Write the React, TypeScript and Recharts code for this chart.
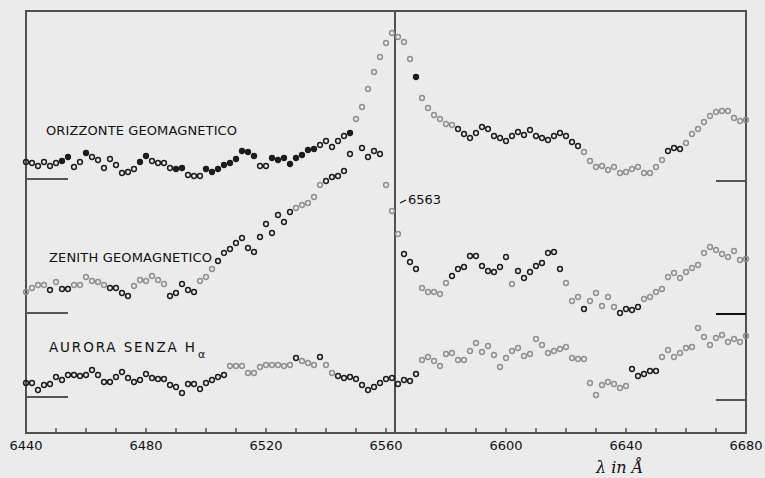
import React from "react";
import {
  LineChart,
  Line,
  XAxis,
  YAxis,
  ReferenceLine,
  ReferenceArea,
  Customized,
} from "recharts";

// wavelength grid (Å), one reading every 2 Å
const wavelengths = [
  6440, 6442, 6444, 6446, 6448, 6450, 6452, 6454, 6456, 6458,
  6460, 6462, 6464, 6466, 6468, 6470, 6472, 6474, 6476, 6478,
  6480, 6482, 6484, 6486, 6488, 6490, 6492, 6494, 6496, 6498,
  6500, 6502, 6504, 6506, 6508, 6510, 6512, 6514, 6516, 6518,
  6520, 6522, 6524, 6526, 6528, 6530, 6532, 6534, 6536, 6538,
  6540, 6542, 6544, 6546, 6548, 6550, 6552, 6554, 6556, 6558,
  6560, 6562, 6564, 6566, 6568, 6570, 6572, 6574, 6576, 6578,
  6580, 6582, 6584, 6586, 6588, 6590, 6592, 6594, 6596, 6598,
  6600, 6602, 6604, 6606, 6608, 6610, 6612, 6614, 6616, 6618,
  6620, 6622, 6624, 6626, 6628, 6630, 6632, 6634, 6636, 6638,
  6640, 6642, 6644, 6646, 6648, 6650, 6652, 6654, 6656, 6658,
  6660, 6662, 6664, 6666, 6668, 6670, 6672, 6674, 6676, 6678,
  6680,
];

// relative intensity (arbitrary units, curves shifted vertically)
const horizonValues = [
  271, 270, 267, 271, 267, 270, 272, 276, 266, 271,
  280, 276, 273, 265, 274, 268, 260, 261, 264, 271,
  277, 272, 270, 270, 265, 264, 265, 258, 257, 257,
  264, 261, 264, 268, 270, 274, 282, 281, 277, 267,
  267, 275, 273, 275, 269, 275, 278, 283, 284, 288,
  292, 286, 292, 297, 300, 314, 326, 344, 361, 376,
  390, 400, 396, 391, 374, 356, 335, 325, 318, 314,
  309, 308, 304, 299, 295, 300, 306, 304, 297, 295,
  292, 297, 301, 298, 303, 297, 295, 293, 297, 300,
  297, 291, 287, 281, 272, 266, 267, 263, 266, 260,
  261, 264, 266, 260, 260, 266, 273, 282, 285, 284,
  290, 299, 304, 311, 317, 321, 322, 322, 315, 312,
  313,
];

// second branch of the horizon curve just below Hα
const horizonBranchWavelengths = [6548, 6552, 6554, 6556, 6558];
const horizonBranchValues = [279, 285, 276, 282, 279];

const zenithValues = [
  141, 145, 148, 148, 143, 151, 144, 144, 148, 148,
  156, 152, 151, 148, 145, 145, 140, 137, 147, 153,
  152, 157, 153, 149, 137, 140, 149, 143, 141, 152,
  156, 164, 172, 180, 184, 190, 195, 185, 181, 196,
  209, 200, 218, 211, 221, 225, 228, 230, 236, 248,
  252, 256, 257, 262, null, null, null, null, null, null,
  248, 222, 199, 179, 171, 164, 145, 141, 141, 139,
  150, 157, 164, 166, 177, 177, 167, 162, 161, 166,
  176, 149, 162, 155, 161, 167, 170, 180, 181, 164,
  150, 132, 136, 124, 132, 140, 127, 136, 126, 120,
  124, 123, 126, 134, 136, 141, 144, 156, 160, 155,
  161, 165, 168, 180, 186, 183, 179, 176, 182, 173,
  174,
];

const auroraValues = [
  50, 50, 43, 48, 49, 56, 53, 58, 58, 57,
  58, 63, 58, 51, 51, 56, 61, 55, 51, 53,
  59, 55, 54, 54, 48, 46, 40, 49, 49, 44,
  50, 53, 56, 58, 67, 67, 67, 60, 60, 66,
  68, 68, 68, 67, 68, 75, 72, 70, 68, 76,
  68, 60, 57, 55, 56, 54, 48, 43, 46, 50,
  54, 55, 49, 53, 52, 59, 73, 76, 72, 67,
  79, 80, 73, 73, 82, 90, 81, 87, 78, 66,
  75, 82, 85, 77, 79, 94, 88, 80, 82, 84,
  86, 75, 74, 74, 50, 38, 48, 51, 49, 45,
  47, 64, 57, 59, 62, 62, 76, 83, 76, 80,
  85, 86, 105, 96, 88, 95, 98, 91, 94, 91,
  97,
];

const xTicks = [
  6440, 6450, 6460, 6470, 6480, 6490, 6500, 6510, 6520, 6530, 6540, 6550, 6560,
  6570, 6580, 6590, 6600, 6610, 6620, 6630, 6640, 6650, 6660, 6670, 6680,
];
const xLabels = [6440, 6480, 6520, 6560, 6600, 6640, 6680];
const H_ALPHA = 6563;

// zero levels of the three curves (left / right marks)
const zeroLeft = [254, 120, 36];
const zeroRight = [252, 119, 33];

const data = wavelengths.map((w, i) => {
  const b = horizonBranchWavelengths.indexOf(w);
  return {
    w,
    horizon: horizonValues[i],
    horizonBranch: b >= 0 ? horizonBranchValues[b] : null,
    zenith: zenithValues[i],
    aurora: auroraValues[i],
  };
});

const INK = "#1c1c1c";
const GREY = "#8f8f8f";
const FRAME = "#505050";

const greyRanges: Record<string, [number, number][]> = {
  horizon: [[6550, 6568], [6572, 6582], [6626, 6652], [6660, 6680]],
  zenith: [
    [6440, 6446], [6450, 6450], [6456, 6466], [6476, 6486], [6498, 6502],
    [6530, 6538], [6560, 6564], [6572, 6580], [6602, 6602], [6620, 6624],
    [6628, 6636], [6646, 6680],
  ],
  aurora: [[6508, 6528], [6532, 6536], [6540, 6542], [6572, 6640], [6652, 6680]],
};
const filledRanges: Record<string, [number, number][]> = {
  horizon: [
    [6452, 6454], [6460, 6460], [6478, 6480], [6490, 6492], [6500, 6516],
    [6522, 6536], [6548, 6548], [6570, 6570],
  ],
};

const inRanges = (w: number, ranges: [number, number][] = []) =>
  ranges.some(([a, b]) => w >= a && w <= b);

function makeDot(series: string) {
  return (props: any) => {
    const { cx, cy, payload, index } = props;
    const key = `${series}-${index}`;
    if (cx == null || cy == null || payload[series] == null) return <g key={key} />;
    const c = inRanges(payload.w, greyRanges[series]) ? GREY : INK;
    const filled = inRanges(payload.w, filledRanges[series]);
    return (
      <circle
        key={key}
        cx={cx}
        cy={cy}
        r={2.4}
        fill={filled ? c : "none"}
        stroke={c}
        strokeWidth={1.5}
      />
    );
  };
}

function WaveTick(props: any) {
  const { x, y, payload } = props;
  const v = payload.value;
  return (
    <g>
      <line x1={x} x2={x} y1={y - 5} y2={y} stroke={FRAME} strokeWidth={1.5} />
      {xLabels.includes(v) && (
        <text
          x={x}
          y={y + 17}
          textAnchor="middle"
          fontSize={13}
          fontFamily="DejaVu Sans"
          fill="#111"
        >
          {v}
        </text>
      )}
    </g>
  );
}

const Annotations = () => (
  <g fontFamily="DejaVu Sans" fill="#111">
    <text x={46} y={135} fontSize={13} textLength={191} lengthAdjust="spacing">
      ORIZZONTE GEOMAGNETICO
    </text>
    <text x={49} y={262} fontSize={13} textLength={163} lengthAdjust="spacing">
      ZENITH GEOMAGNETICO
    </text>
    <text x={49} y={352} fontSize={13.5} textLength={146} lengthAdjust="spacing">
      AURORA SENZA H
    </text>
    <text x={198} y={358} fontSize={11}>
      α
    </text>
    <text x={596} y={473} fontSize={16} fontStyle="italic" fontFamily="DejaVu Serif">
      λ in Å
    </text>
  </g>
);

export default function App() {
  return (
    <div
      style={{
        position: "absolute",
        left: 0,
        top: 0,
        width: 765,
        height: 478,
        background: "#ebebeb",
        overflow: "hidden",
      }}
    >
      <LineChart
        width={765}
        height={478}
        data={data}
        margin={{ top: 11, right: 19, bottom: 15, left: 26 }}
      >
        <XAxis
          dataKey="w"
          type="number"
          domain={[6440, 6680]}
          ticks={xTicks}
          axisLine={false}
          tickLine={false}
          tickSize={0}
          tickMargin={0}
          height={30}
          interval={0}
          tick={<WaveTick />}
        />
        <YAxis hide type="number" domain={[0, 422]} />

        <ReferenceArea
          x1={6440}
          x2={6680}
          y1={0}
          y2={422}
          fill="none"
          stroke={FRAME}
          strokeWidth={2}
        />
        <ReferenceLine
          x={H_ALPHA}
          stroke={FRAME}
          strokeWidth={2}
          label={{
            content: (p: any) => {
              const vx = p.viewBox?.x ?? 0;
              return (
                <g>
                  <line x1={vx + 5} y1={203} x2={vx + 11} y2={200} stroke="#111" strokeWidth={1.2} />
                  <text x={vx + 13} y={204} fontSize={13} fontFamily="DejaVu Sans" fill="#111">
                    {H_ALPHA}
                  </text>
                </g>
              );
            },
          }}
        />

        {zeroLeft.map((v, i) => (
          <ReferenceLine
            key={`zl${i}`}
            segment={[{ x: 6440, y: v }, { x: 6454, y: v }]}
            stroke="#555"
            strokeWidth={2}
          />
        ))}
        {zeroRight.map((v, i) => (
          <ReferenceLine
            key={`zr${i}`}
            segment={[{ x: 6670, y: v }, { x: 6680, y: v }]}
            stroke={i === 1 ? "#111" : "#555"}
            strokeWidth={2}
          />
        ))}

        <Line dataKey="horizon" stroke="none" dot={makeDot("horizon")} activeDot={false} isAnimationActive={false} />
        <Line dataKey="horizonBranch" stroke="none" dot={makeDot("horizonBranch")} activeDot={false} isAnimationActive={false} />
        <Line dataKey="zenith" stroke="none" dot={makeDot("zenith")} activeDot={false} isAnimationActive={false} />
        <Line dataKey="aurora" stroke="none" dot={makeDot("aurora")} activeDot={false} isAnimationActive={false} />

        <Customized component={Annotations} />
      </LineChart>
    </div>
  );
}
